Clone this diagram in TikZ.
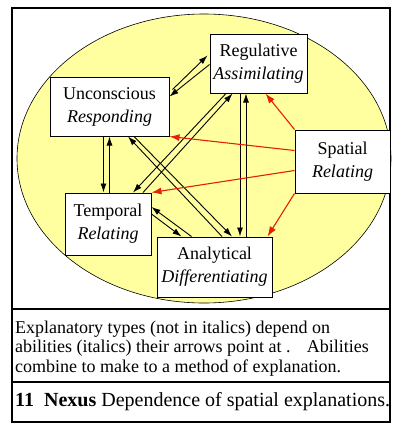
\documentclass[tikz,border=0pt]{standalone}
\usepackage{fontspec}
\setmainfont{Liberation Serif}
\usetikzlibrary{arrows.meta,calc}
\definecolor{ovalyellow}{RGB}{255,255,160}
\definecolor{spatred}{RGB}{228,32,8}

\begin{document}
\begin{tikzpicture}[x=1pt, y=-1pt, >={Latex[length=9pt,width=6pt]},
    ability/.style={draw, fill=white, line width=1pt, align=center, inner sep=0pt,
      font=\fontsize{18}{23}\selectfont},
    dep/.style={->, line width=0.9pt},
    spat/.style={->, line width=1.1pt, spatred, >={Latex[length=10pt,width=7pt]}}]
      \useasboundingbox (0,0) rectangle (392,424);

      % Oval
      \draw[fill=ovalyellow, line width=0.6pt] (204,158.5) ellipse [x radius=187, y radius=144.5];

      % Frame and dividers
      \draw[line width=2.5pt] (12,8) rectangle (390,422);
      \draw[line width=2pt] (12,309) -- (390,309);
      \draw[line width=2pt] (12,382) -- (390,382);

      % Types and abilities
      \node[ability, minimum width=97pt, minimum height=59pt] (reg) at (258.5,63.5) {Regulative\\\textit{Assimilating}};
      \node[ability, minimum width=119pt, minimum height=59pt] (unc) at (109.5,106.5) {Unconscious\\\textit{Responding}};
      \node[ability, minimum width=95pt, minimum height=63pt] (spa) at (342.5,161.5) {Spatial\\\textit{Relating}};
      \node[ability, minimum width=86pt, minimum height=62pt] (tem) at (108,224) {Temporal\\\textit{Relating}};
      \node[ability, minimum width=115pt, minimum height=60pt] (ana) at (214.5,267) {Analytical\\\textit{Differentiating}};

      % Unconscious -- Regulative
      \draw[dep] ($(unc.north east)+(3,13)$) -- ($(reg.north west)+(-2,22)$);
      \draw[dep] ($(reg.west)+(0,1)$) -- ($(unc.east)+(0,-10)$);

      % Unconscious -- Temporal
      \draw[dep] ($(unc.south)+(-6,0)$) -- ($(unc.south |- tem.north)+(-6,0)$);
      \draw[dep] (unc.south |- tem.north) -- (unc.south);

      % Regulative -- Temporal
      \draw[dep] ($(tem.north)+(35,0)$) -- ($(reg.south)+(-26,0)$);
      \draw[dep] ($(reg.south)+(-32.5,0)$) -- ($(tem.north)+(25,0)$);

      % Unconscious -- Analytical
      \draw[dep] ($(ana.north)+(7.5,0)$) -- ($(unc.south)+(18.5,0)$);
      \draw[dep] ($(unc.south)+(24.5,0)$) -- ($(ana.north)+(17.5,0)$);

      % Temporal -- Analytical
      \draw[dep] ($(ana.north west)+(35,0)$) -- ($(tem.east)+(0,-17)$);
      \draw[dep] ($(tem.east)+(0,-10)$) -- ($(ana.north west)+(25,0)$);

      % Regulative -- Analytical
      \draw[dep] ($(reg.south)+(-18.5,0)$) -- ($(reg.south |- ana.north)+(-18.5,0)$);
      \draw[dep] ($(reg.south |- ana.north)+(-12.5,0)$) -- ($(reg.south)+(-12.5,0)$);

      % Spatial points at everything
      \draw[spat] (spa.north west) -- ($(reg.south)+(7,0)$);
      \draw[spat] ($(spa.west)+(0,-11)$) -- (unc.south east);
      \draw[spat] ($(spa.west)+(0,9)$) -- (tem.north east);
      \draw[spat] (spa.south west) -- ($(ana.north east)+(-5,0)$);

      % Caption
      \node[anchor=base west, align=left, inner sep=0pt, font=\fontsize{18}{19.5}\selectfont] (expl) at (15,372)
        {Explanatory types (not in italics) depend on\\abilities (italics) their arrows point at .\hspace{0.9em}Abilities\\combine to make to a method of explanation.};
      \node[anchor=base west, inner sep=0pt, font=\fontsize{20}{22}\selectfont] (title) at (15,406)
        {\textbf{11~~Nexus} Dependence of spatial explanations.};
\end{tikzpicture}
\end{document}
